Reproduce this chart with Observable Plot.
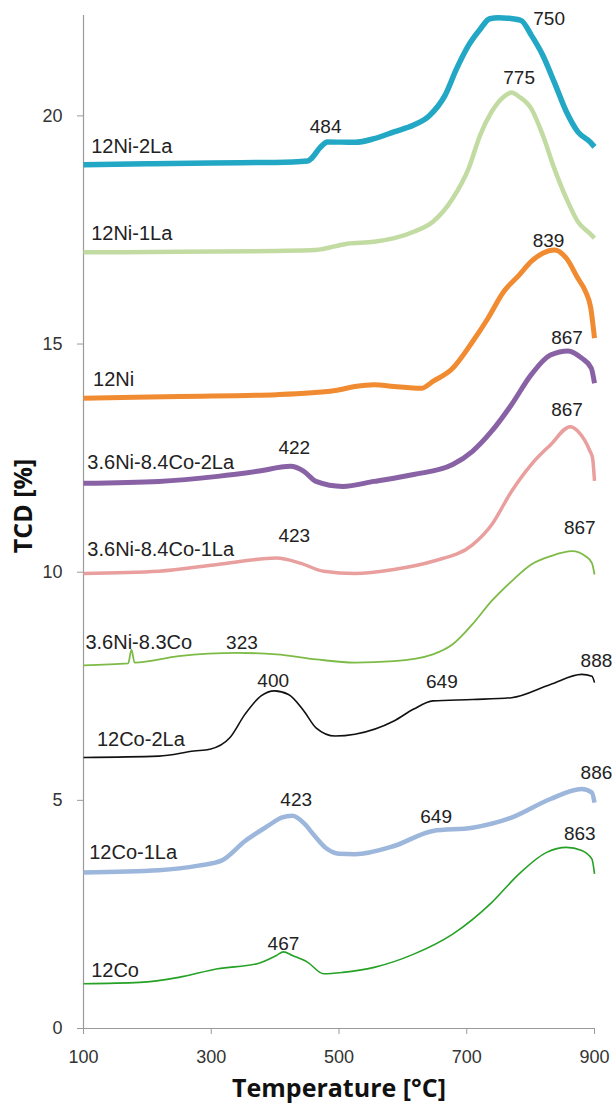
<!DOCTYPE html>
<html>
<head>
<meta charset="utf-8">
<script src="https://cdn.jsdelivr.net/npm/d3@7"></script>
<script src="https://cdn.jsdelivr.net/npm/@observablehq/plot@0.6"></script>
<style>
  body { margin: 0; background: #fff; }
  #chart svg { display: block; }
</style>
</head>
<body>
<div id="chart"></div>
<script>
// TPR profiles: temperature (°C) and TCD signal (%, offset per sample)
const seriesNames = ["12Ni-2La", "12Ni-1La", "12Ni", "3.6Ni-8.4Co-2La", "3.6Ni-8.4Co-1La",
                     "3.6Ni-8.3Co", "12Co-2La", "12Co-1La", "12Co"];

const tNi12La2 = [100, 200, 300, 400, 451, 457, 470, 482, 525, 555, 586, 617, 641, 666, 684, 703, 721, 736, 750, 764, 785, 801, 819, 837, 856, 874, 893, 900];
const vNi12La2 = [18.93, 18.95, 18.97, 18.98, 19.01, 19.07, 19.3, 19.43, 19.42, 19.5, 19.65, 19.8, 20.0, 20.45, 21.03, 21.55, 21.9, 22.13, 22.15, 22.14, 22.09, 21.77, 21.33, 20.74, 20.09, 19.65, 19.43, 19.32];

const tNi12La1 = [100, 250, 400, 463, 513, 555, 617, 647, 678, 703, 721, 739, 758, 770, 782, 801, 819, 837, 856, 874, 893, 900];
const vNi12La1 = [17.01, 17.02, 17.04, 17.06, 17.2, 17.24, 17.46, 17.68, 18.19, 18.85, 19.58, 20.09, 20.42, 20.51, 20.42, 20.16, 19.58, 18.85, 18.19, 17.68, 17.42, 17.32];

const tNi12 = [100, 250, 402, 494, 525, 555, 586, 629, 647, 678, 709, 733, 758, 782, 801, 819, 837, 856, 874, 886, 894, 900];
const vNi12 = [13.81, 13.85, 13.89, 13.98, 14.07, 14.11, 14.07, 14.03, 14.18, 14.47, 15.05, 15.56, 16.15, 16.51, 16.81, 16.99, 17.06, 16.88, 16.44, 16.15, 15.8, 15.13];

const tNiCoLa2 = [100, 218, 310, 372, 424, 445, 464, 506, 555, 617, 678, 709, 739, 770, 801, 831, 859, 880, 895, 900];
const vNiCoLa2 = [11.95, 11.99, 12.1, 12.21, 12.32, 12.21, 11.99, 11.88, 11.99, 12.14, 12.36, 12.65, 13.09, 13.67, 14.33, 14.76, 14.85, 14.69, 14.47, 14.14];

const tNiCoLa1 = [100, 218, 310, 402, 439, 476, 525, 586, 647, 709, 739, 770, 801, 831, 862, 874, 893, 897, 900];
const vNiCoLa1 = [9.97, 10.02, 10.17, 10.31, 10.2, 10.02, 9.97, 10.06, 10.24, 10.6, 11.04, 11.77, 12.36, 12.79, 13.19, 13.09, 12.65, 12.5, 12.0];

const tNiCo = [100, 170, 175, 180, 249, 341, 402, 464, 525, 586, 647, 678, 709, 739, 770, 801, 831, 865, 886, 896, 900];
const vNiCo = [7.96, 8.0, 8.3, 8.02, 8.16, 8.23, 8.2, 8.09, 8.02, 8.05, 8.2, 8.42, 8.86, 9.37, 9.8, 10.17, 10.35, 10.46, 10.35, 10.2, 9.95];

const tCo12La2 = [100, 218, 273, 298, 329, 353, 378, 399, 421, 445, 464, 494, 525, 586, 617, 647, 709, 770, 831, 880, 896, 900];
const vCo12La2 = [5.94, 5.97, 6.08, 6.12, 6.37, 6.89, 7.29, 7.4, 7.32, 6.96, 6.59, 6.41, 6.45, 6.74, 7.0, 7.18, 7.21, 7.25, 7.54, 7.76, 7.72, 7.58];

const tCo12La1 = [100, 218, 280, 316, 353, 390, 410, 427, 445, 462, 480, 500, 525, 586, 647, 709, 770, 831, 880, 896, 900];
const vCo12La1 = [3.42, 3.47, 3.57, 3.68, 4.11, 4.45, 4.62, 4.66, 4.5, 4.22, 3.95, 3.83, 3.82, 4.0, 4.33, 4.4, 4.62, 5.03, 5.25, 5.17, 4.95];

const tCo12 = [100, 188, 249, 310, 372, 402, 413, 427, 451, 476, 506, 555, 617, 678, 739, 782, 825, 856, 880, 896, 900];
const vCo12 = [0.98, 1.01, 1.12, 1.31, 1.42, 1.6, 1.68, 1.6, 1.45, 1.2, 1.23, 1.34, 1.63, 2.07, 2.76, 3.39, 3.86, 3.97, 3.9, 3.71, 3.39];

const seriesT = [tNi12La2, tNi12La1, tNi12, tNiCoLa2, tNiCoLa1, tNiCo, tCo12La2, tCo12La1, tCo12];
const seriesV = [vNi12La2, vNi12La1, vNi12, vNiCoLa2, vNiCoLa1, vNiCo, vCo12La2, vCo12La1, vCo12];

// Sample name labels, placed at the left of each trace
const nameT = [112, 112, 115, 106, 106, 103, 121, 109, 112];
const nameV = [19.33, 17.41, 14.23, 12.41, 10.49, 8.46, 6.33, 3.85, 1.26];

// Peak temperature annotations
const peakText = ["750", "484", "775", "839", "867", "422", "867", "423", "867", "323", "400", "649", "888", "423", "649", "886", "863", "467"];
const peakT = [829, 479, 782, 828, 857, 430, 857, 430, 877, 348, 397, 661, 903, 433, 652, 903, 877, 413];
const peakV = [22.13, 19.76, 20.84, 17.26, 15.14, 12.73, 13.55, 10.8, 10.98, 8.46, 7.62, 7.59, 8.05, 5.02, 4.63, 5.6, 4.26, 1.86];

const xTicks = [100, 300, 500, 700, 900];
const yTicks = [0, 5, 10, 15, 20];

// Line styles per sample
const colors = ["#22a7c4", "#c2dba2", "#f08b32", "#8962a6", "#e89f9e", "#7dbb46", "#111111", "#9cb6dc", "#25a125"];
const widths = [5.5, 4.5, 5, 5, 3.5, 1.8, 1.6, 4.5, 1.6];

const axisGray = "#9a9a9a";
const labelFont = "'Liberation Sans', Arial, sans-serif";
const titleFont = "'Open Sans', 'DejaVu Sans', sans-serif";

const lineMarks = seriesNames.map((name, i) => {
  const rows = seriesT[i].map((t, j) => ({sample: name, T: t, v: seriesV[i][j]}));
  return Plot.line(rows, {
    x: "T", y: "v",
    stroke: colors[i], strokeWidth: widths[i],
    curve: "monotone-x", strokeLinejoin: "round", strokeLinecap: "butt"
  });
});

const chart = Plot.plot({
  width: 612,
  height: 1113,
  marginLeft: 83,
  marginRight: 18,
  marginTop: 15,
  marginBottom: 85,
  style: {fontFamily: labelFont, fontSize: "18px", background: "#fff", color: "#333"},
  x: {domain: [100, 900]},
  y: {domain: [0, 22.2]},
  marks: [
    Plot.ruleX([100], {stroke: axisGray, strokeWidth: 1.2}),
    Plot.ruleY([0], {stroke: axisGray, strokeWidth: 1.2}),
    Plot.axisX({ticks: xTicks, tickFormat: d => String(d), tickSize: 6, tickPadding: 16,
                label: null, stroke: axisGray, fill: "#333", fontSize: 18}),
    Plot.axisY({ticks: yTicks, tickFormat: d => String(d), tickSize: 6, tickPadding: 15,
                label: null, stroke: axisGray, fill: "#333", fontSize: 18}),
    ...lineMarks,
    Plot.text(seriesNames, {x: nameT, y: nameV, textAnchor: "start", fill: "#222",
                            fontSize: 20, fontFamily: labelFont}),
    Plot.text(peakText, {x: peakT, y: peakV, fill: "#222", fontSize: 19, fontFamily: labelFont}),
    Plot.text(["Temperature [°C]"], {frameAnchor: "bottom", dy: 68, fontSize: 25,
                                    fontWeight: "bold", fontFamily: titleFont, fill: "#111"}),
    // rotated y-axis title, centred on the left margin
    Plot.text(["TCD [%]"], {x: () => 7.5, y: () => 11.45, rotate: -90, fontSize: 25,
                           fontWeight: "bold", fontFamily: titleFont, fill: "#111"})
  ]
});

document.getElementById("chart").appendChild(chart);
</script>
</body>
</html>
